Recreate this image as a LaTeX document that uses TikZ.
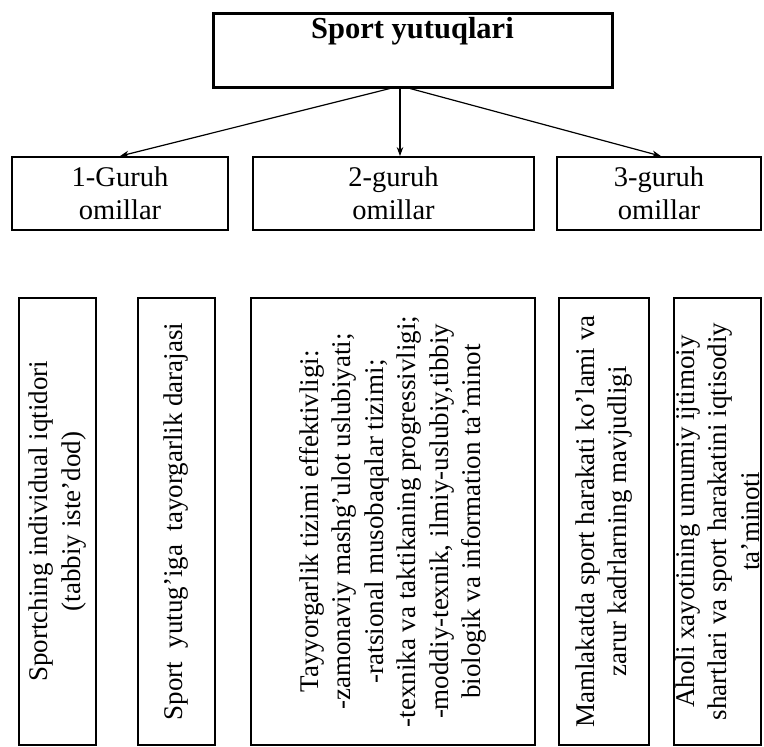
\documentclass[tikz,border=0pt]{standalone}
\usepackage{fontspec}
\setmainfont{Liberation Serif}
\usetikzlibrary{arrows.meta}
\begin{document}
\begin{tikzpicture}[x=1pt,y=-1pt,
  box/.style={draw, line width=1.8pt, rectangle, inner sep=0pt, align=center,
    font=\fontsize{27}{32.5}\selectfont},
  grp/.style={box, minimum height=73pt, font=\fontsize{28.5}{33}\selectfont},
  vbox/.style={box, rotate=90, minimum width=447pt},
  arr/.style={line width=1.2pt, -{Stealth[length=9pt,width=6.5pt]}}
]
\useasboundingbox (0,0) rectangle (764,747);
% top box
\node[box, line width=3pt, minimum width=399pt, minimum height=74pt] (top) at (412.5,50) {};
\node[inner sep=0pt, font=\fontsize{30.5}{35}\selectfont\bfseries] (toptext) at (412.5,31) {Sport yutuqlari};
% group boxes
\node[grp, minimum width=216pt] (g1) at (120,193.5) {1-Guruh\\omillar};
\node[grp, minimum width=281pt] (g2) at (393.5,193.5) {2-guruh\\omillar};
\node[grp, minimum width=204pt] (g3) at (659,193.5) {3-guruh\\omillar};
% arrows
\draw[arr] ([xshift=-22.5pt]top.south) -- (g1.north);
\draw[arr] ([xshift=-12.5pt]top.south) -- ([xshift=-12.5pt]top.south |- g2.north);
\draw[arr] ([xshift=-2.5pt]top.south) -- ([xshift=2pt]g3.north);
% bottom boxes
\node[vbox, minimum height=77pt] (b1) at (57.5,521.5)
  {Sportching individual iqtidori\\(tabbiy iste’dod)};
\node[vbox, minimum height=77pt] (b2) at (176.5,521.5)
  {Sport~ yutug’iga~ tayorgarlik darajasi};
\node[vbox, minimum height=284pt] (b3) at (393,521.5)
  {Tayyorgarlik tizimi effektivligi:\\-zamonaviy mashg’ulot uslubiyati;\\-ratsional musobaqalar tizimi;\\-texnika va taktikaning progressivligi;\\-moddiy-texnik, ilmiy-uslubiy,tibbiy\\biologik va information ta’minot};
\node[vbox, minimum height=90pt] (b4) at (604,521.5)
  {Mamlakatda sport harakati ko’lami va\\zarur kadrlarning mavjudligi};
\node[vbox, minimum height=87pt] (b5) at (717.5,521.5)
  {Aholi xayotining umumiy ijtimoiy\\shartlari va sport harakatini iqtisodiy\\ta’minoti};
\end{tikzpicture}
\end{document}
